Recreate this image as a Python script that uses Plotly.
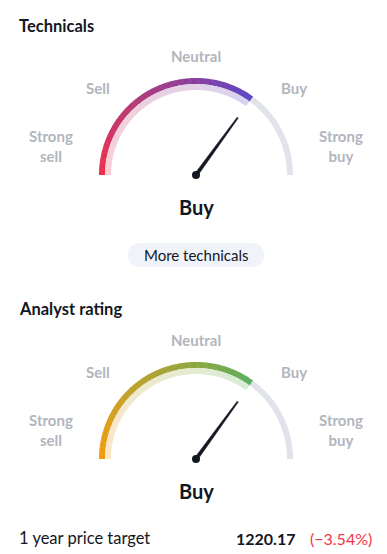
import numpy as np
import plotly.graph_objects as go

# ---------------- data ----------------
categories = ["Strong sell", "Sell", "Neutral", "Buy", "Strong buy"]
gauge_titles = ["Technicals", "Analyst rating"]
gauge_values = [0.40, 0.40]          # scale -1 (strong sell) .. +1 (strong buy)
gauge_verdicts = ["Buy", "Buy"]
button_label = "More technicals"
price_target_label = "1 year price target"
price_target = 1220.17
price_change_pct = -3.54

# ---------------- style ----------------
W, H = 387, 554
FONT = "Lato"
DARK = "#131722"
GREY_TXT = "#B2B5BE"
TRACK = "#E0E3EB"
gradients = [
    [(0.0, "#EE2E4A"), (0.35, "#B93A72"), (0.71, "#883F9E"), (1.0, "#5A46C4")],
    [(0.0, "#F49B0A"), (0.35, "#C2A12A"), (0.71, "#8DA63F"), (1.0, "#58AE5C")],
]
CX = 196
CYS = [175, 459]
TITLE_Y = [26, 309]
R_OUT, R_MID, R_IN = 97, 91, 85
NEEDLE_R = 71

# label placement (dx, dy, lines) relative to gauge centre
label_pos = {
    "Strong sell": (-145, -29, 2),
    "Sell": (-98, -87, 1),
    "Neutral": (0, -119, 1),
    "Buy": (98, -87, 1),
    "Strong buy": (145, -29, 2),
}


def hex2rgb(h):
    h = h.lstrip("#")
    return np.array([int(h[i:i + 2], 16) for i in (0, 2, 4)], dtype=float)


def grad_color(stops, t, light=0.0):
    for (t0, c0), (t1, c1) in zip(stops[:-1], stops[1:]):
        if t <= t1:
            f = 0 if t1 == t0 else (t - t0) / (t1 - t0)
            c = hex2rgb(c0) * (1 - f) + hex2rgb(c1) * f
            break
    else:
        c = hex2rgb(stops[-1][1])
    c = c * (1 - light) + 255 * light
    return "rgb(%d,%d,%d)" % tuple(np.round(c).astype(int))


def val2ang(v):
    return np.pi - (v + 1) / 2 * np.pi


def pt(cy, r, a):
    return CX + r * np.cos(a), cy - r * np.sin(a)


def band_path(cy, r0, r1, a0, a1, n=4):
    angs = np.linspace(a0, a1, n)
    outer = [pt(cy, r1, a) for a in angs]
    inner = [pt(cy, r0, a) for a in angs[::-1]]
    pts = outer + inner
    return "M " + " L ".join("%.2f,%.2f" % p for p in pts) + " Z"


fig = go.Figure()
shapes = []
annotations = []

for gi, (title, val, verdict, cy) in enumerate(zip(gauge_titles, gauge_values, gauge_verdicts, CYS)):
    stops = gradients[gi]
    a_end = val2ang(val)
    # grey track
    shapes.append(dict(type="path", path=band_path(cy, R_MID, R_OUT, a_end, 0, 60),
                       fillcolor=TRACK, line=dict(width=0), layer="below"))
    # gradient arcs
    N = 90
    edges = np.linspace(np.pi, a_end, N + 1)
    for i in range(N):
        t = (i + 0.5) / N
        a0 = edges[i] + (0.004 if i > 0 else 0)
        a1 = edges[i + 1]
        shapes.append(dict(type="path", path=band_path(cy, R_MID, R_OUT, a0, a1),
                           fillcolor=grad_color(stops, t), line=dict(width=0), layer="below"))
        shapes.append(dict(type="path", path=band_path(cy, R_IN, R_MID, a0, a1),
                           fillcolor=grad_color(stops, t, 0.76), line=dict(width=0), layer="below"))
    # needle (tapered)
    a = val2ang(val)
    tip = np.array(pt(cy, NEEDLE_R, a))
    base = np.array([CX, cy], dtype=float)
    perp = np.array([np.sin(a), np.cos(a)])
    p1 = base + perp * 1.8
    p2 = tip + perp * 0.7
    p3 = tip - perp * 0.7
    p4 = base - perp * 1.8
    poly = np.array([p1, p2, p3, p4, p1])
    fig.add_trace(go.Scatter(x=poly[:, 0], y=poly[:, 1], mode="lines", fill="toself",
                             fillcolor=DARK, line=dict(color=DARK, width=0.5),
                             hoverinfo="skip", showlegend=False))
    fig.add_trace(go.Scatter(x=[CX], y=[cy], mode="markers",
                             marker=dict(size=8, color=DARK), hoverinfo="skip", showlegend=False))
    # titles
    annotations.append(dict(x=17, y=TITLE_Y[gi], text="<b>%s</b>" % title, showarrow=False,
                            xanchor="left", yanchor="middle",
                            font=dict(family=FONT, size=16.5, color=DARK)))
    # category labels
    for cat in categories:
        dx, dy, lines = label_pos[cat]
        txt = cat.replace(" ", "<br>") if lines == 2 else cat
        annotations.append(dict(x=CX + dx, y=cy + dy, text="<b>%s</b>" % txt, showarrow=False,
                                xanchor="center", yanchor="middle",
                                font=dict(family=FONT, size=15, color=GREY_TXT),
                                align="center"))
    # verdict
    annotations.append(dict(x=CX, y=cy + 32, text="<b>%s</b>" % verdict, showarrow=False,
                            xanchor="center", yanchor="middle",
                            font=dict(family=FONT, size=20, color=DARK)))

# button
bx0, bx1, by0, by1, rr = 128, 264, 243, 267, 12
shapes.append(dict(type="path",
                   path=("M %d,%d L %d,%d Q %d,%d %d,%d L %d,%d Q %d,%d %d,%d L %d,%d Q %d,%d %d,%d "
                         "L %d,%d Q %d,%d %d,%d Z") % (
                       bx0 + rr, by0, bx1 - rr, by0, bx1, by0, bx1, by0 + rr,
                       bx1, by1 - rr, bx1, by1, bx1 - rr, by1,
                       bx0 + rr, by1, bx0, by1, bx0, by1 - rr,
                       bx0, by0 + rr, bx0, by0, bx0 + rr, by0),
                   fillcolor="#F0F3FA", line=dict(width=0), layer="below"))
annotations.append(dict(x=(bx0 + bx1) / 2, y=(by0 + by1) / 2, text=button_label, showarrow=False,
                        xanchor="center", yanchor="middle",
                        font=dict(family=FONT, size=15, color=DARK)))

# price target row
annotations.append(dict(x=17, y=538, text=price_target_label, showarrow=False,
                        xanchor="left", yanchor="middle",
                        font=dict(family=FONT, size=16.5, color=DARK)))
annotations.append(dict(x=297, y=538, text="<b>%.2f</b>" % price_target, showarrow=False,
                        xanchor="right", yanchor="middle",
                        font=dict(family=FONT, size=16, color=DARK)))
annotations.append(dict(x=374, y=538, text="(\u2212%.2f%%)" % abs(price_change_pct), showarrow=False,
                        xanchor="right", yanchor="middle",
                        font=dict(family=FONT, size=16, color="#F23645")))

fig.update_layout(
    width=W, height=H, margin=dict(l=0, r=0, t=0, b=0),
    paper_bgcolor="white", plot_bgcolor="white",
    xaxis=dict(range=[0, W], visible=False, fixedrange=True),
    yaxis=dict(range=[H, 0], visible=False, fixedrange=True),
    shapes=shapes, annotations=annotations, showlegend=False,
)
fig.write_html("out.html", config={"displayModeBar": False})
